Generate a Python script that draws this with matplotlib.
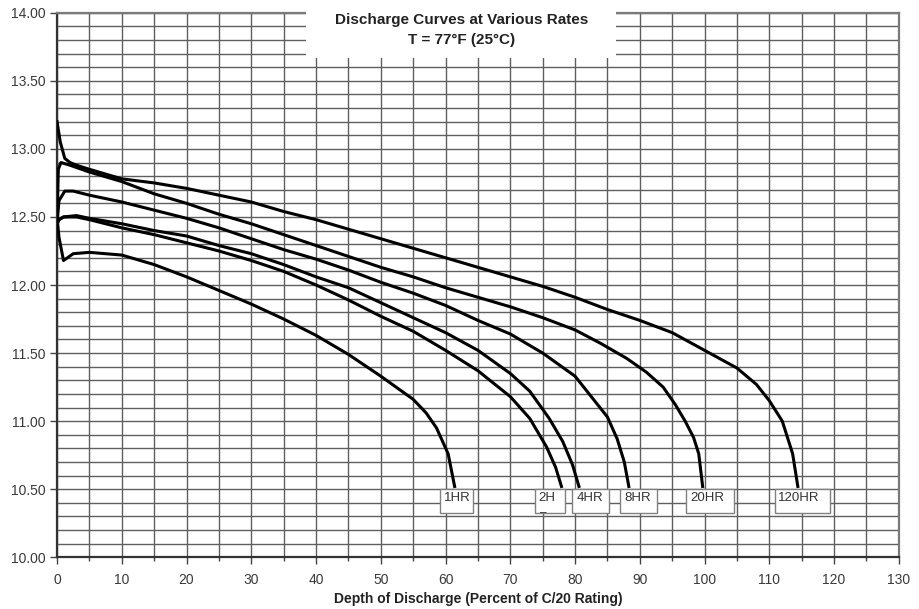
import numpy as np
import matplotlib
matplotlib.use("Agg")
import matplotlib.pyplot as plt
from matplotlib.patches import Rectangle

plt.rcParams['font.family'] = ['Liberation Sans', 'DejaVu Sans']

# depth of discharge (%) and voltage, one pair per rate
hr1_x = [0, 0.3, 1.0, 2.5, 5, 10, 15, 20, 25, 30, 35, 40, 45, 50, 55, 57, 58.6, 60.4, 61.4]
hr1_v = [12.50, 12.35, 12.18, 12.23, 12.24, 12.22, 12.15, 12.06, 11.96, 11.86, 11.75,
         11.63, 11.49, 11.33, 11.16, 11.06, 10.95, 10.76, 10.52]

hr2_x = [0, 0.3, 1, 3, 5, 10, 15, 20, 25, 30, 35, 40, 45, 50, 55, 60, 65, 70, 73, 75.6, 77, 77.9]
hr2_v = [12.45, 12.48, 12.50, 12.50, 12.48, 12.42, 12.37, 12.31, 12.25, 12.18, 12.10, 12.00,
         11.89, 11.77, 11.66, 11.52, 11.37, 11.18, 11.02, 10.81, 10.66, 10.52]

hr4_x = [0, 0.3, 1, 3, 5, 10, 15, 20, 25, 30, 35, 40, 45, 50, 55, 60, 65, 70, 73, 76,
         78.1, 79.6, 80.6]
hr4_v = [12.45, 12.48, 12.50, 12.51, 12.49, 12.45, 12.40, 12.36, 12.29, 12.23, 12.15, 12.06,
         11.98, 11.87, 11.76, 11.65, 11.52, 11.35, 11.22, 11.02, 10.85, 10.68, 10.52]

hr8_x = [0, 0.3, 1.2, 2.5, 5, 10, 15, 20, 25, 30, 35, 40, 45, 50, 55, 60, 65, 70, 75,
         80, 83, 85, 86.5, 87.6, 88.3]
hr8_v = [12.45, 12.62, 12.69, 12.69, 12.66, 12.61, 12.55, 12.49, 12.42, 12.34, 12.26, 12.19,
         12.11, 12.02, 11.94, 11.85, 11.74, 11.64, 11.50, 11.33, 11.15, 11.03, 10.87, 10.70, 10.52]

hr20_x = [0, 0.2, 0.6, 2, 5, 10, 15, 20, 25, 30, 35, 40, 45, 50, 55, 60, 65, 70, 75, 80,
          84, 88, 91, 93.6, 95.5, 97, 98.3, 99.1, 99.7]
hr20_v = [12.45, 12.85, 12.90, 12.88, 12.83, 12.76, 12.67, 12.60, 12.52, 12.45, 12.37, 12.29,
          12.21, 12.13, 12.06, 11.98, 11.91, 11.84, 11.76, 11.67, 11.57, 11.46, 11.36, 11.25,
          11.12, 11.00, 10.88, 10.76, 10.52]

hr120_x = [0, 0.5, 1.2, 2, 3, 5, 10, 15, 20, 25, 30, 35, 40, 45, 50, 55, 60, 65, 70, 75,
           80, 85, 90, 95, 100, 105, 108, 110, 112, 113.6, 114.4]
hr120_v = [13.20, 13.05, 12.93, 12.90, 12.88, 12.85, 12.78, 12.75, 12.71, 12.66, 12.61, 12.54,
           12.48, 12.41, 12.34, 12.27, 12.20, 12.13, 12.06, 11.99, 11.91, 11.82, 11.74, 11.65,
           11.52, 11.39, 11.27, 11.15, 11.00, 10.76, 10.52]

curves = [(hr1_x, hr1_v), (hr2_x, hr2_v), (hr4_x, hr4_v),
          (hr8_x, hr8_v), (hr20_x, hr20_v), (hr120_x, hr120_v)]

# end-of-curve label boxes (left, right) in data units
label_text = ["1HR", "2H", "4HR", "8HR", "20HR", "120HR"]
label_x0 = [59.1, 73.8, 79.6, 87.0, 97.2, 110.8]
label_x1 = [64.2, 78.5, 85.3, 92.6, 104.5, 119.3]

fig = plt.figure(figsize=(9.2, 6.09), dpi=100)
ax = fig.add_axes([0.062, 0.085, 0.915, 0.894])

for x, v in curves:
    ax.plot(x, v, color='black', lw=2.2, solid_joinstyle='round', zorder=3)

ybot, ytop = 10.324, 10.50
for t, x0, x1 in zip(label_text, label_x0, label_x1):
    r = Rectangle((x0, ybot), x1 - x0, ytop - ybot, facecolor='white',
                  edgecolor='#808080', lw=1.0, zorder=4)
    ax.add_patch(r)
    ax.text(x0 + 0.6, 10.435, t, fontsize=9.5, color='#333333',
            ha='left', va='center', zorder=5)
    if t == "2H":
        # wrapped second line of "2HR", mostly hidden by the box edge
        rt = ax.text(x0 + 0.6, 10.29, "R", fontsize=9.5, color='#333333',
                     ha='left', va='center', zorder=5, clip_on=True)
        rt.set_clip_path(r)

ax.set_xlim(0, 130)
ax.set_ylim(10, 14)
ax.set_xticks(np.arange(0, 131, 10))
ax.set_xticks(np.arange(0, 131, 5), minor=True)
ax.set_yticks(np.arange(10, 14.01, 0.5))
ax.set_yticks(np.arange(10, 14.01, 0.1), minor=True)
ax.set_yticklabels(["%.2f" % v for v in np.arange(10, 14.01, 0.5)])
ax.grid(which='both', color='#5f5f5f', lw=1.0)
ax.set_axisbelow(True)

ax.tick_params(which='major', direction='out', length=5, width=1, color='#444444',
               labelsize=10, labelcolor='#3a3a3a', pad=3)
ax.tick_params(axis='x', which='major', pad=6)
ax.tick_params(which='minor', direction='out', length=3, width=1, color='#444444')
ax.tick_params(axis='y', which='minor', length=0)

for s in ['left', 'bottom']:
    ax.spines[s].set_color('#333333')
    ax.spines[s].set_linewidth(1.6)
for s in ['top', 'right']:
    ax.spines[s].set_color('#7a7a7a')
    ax.spines[s].set_linewidth(1.6)

ax.set_xlabel("Depth of Discharge (Percent of C/20 Rating)", fontsize=10,
              fontweight='bold', color='#222222', labelpad=4)

# white panel behind the title, over the grid
fig.add_artist(Rectangle((0.3326, 0.905), 0.337, 0.1, transform=fig.transFigure,
                         facecolor='white', edgecolor='none', zorder=5))
fig.text(0.502, 0.967, "Discharge Curves at Various Rates", fontsize=11,
         fontweight='bold', color='#222222', ha='center', va='center', zorder=6)
fig.text(0.502, 0.934, "T = 77°F (25°C)", fontsize=11,
         fontweight='bold', color='#222222', ha='center', va='center', zorder=6)

fig.savefig("out.png", dpi=100)
